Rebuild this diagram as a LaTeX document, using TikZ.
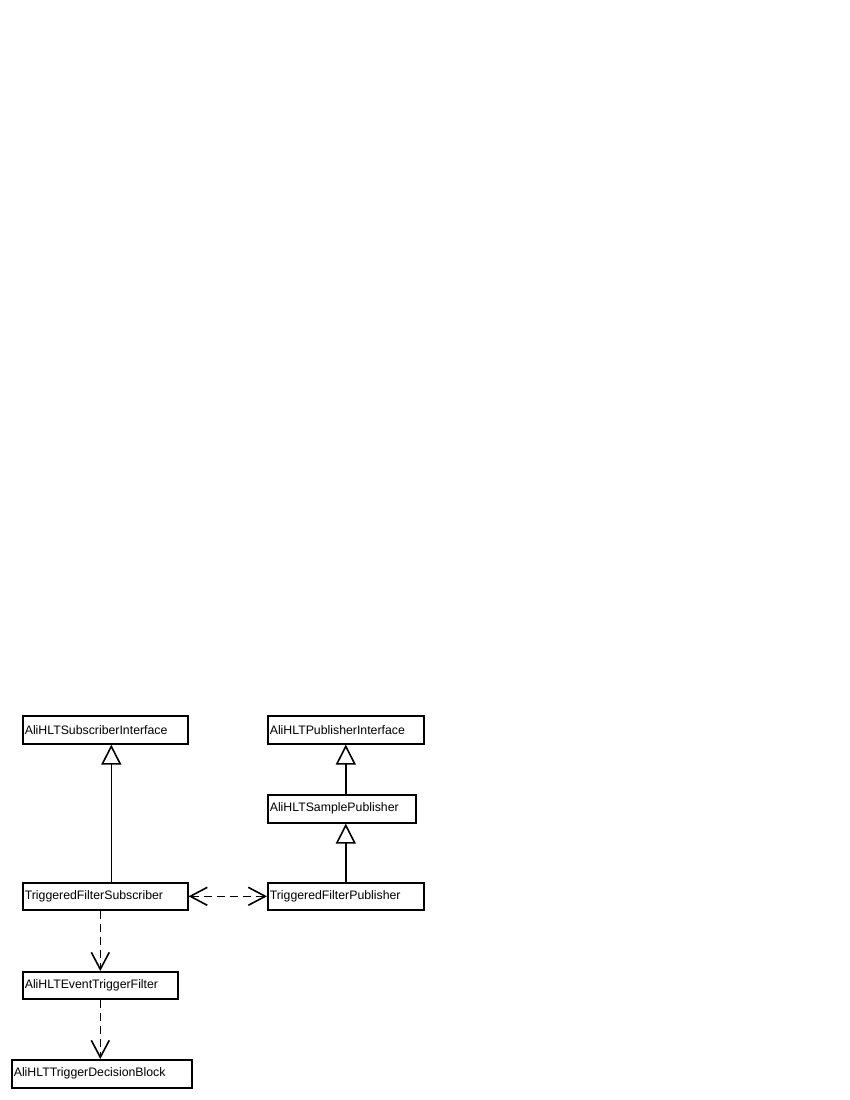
\documentclass[tikz,border=0pt]{standalone}
\usepackage{fontspec}
\setmainfont{Liberation Sans}
\usepackage{tikz}
\usetikzlibrary{arrows.meta}
\usetikzlibrary{positioning}

\begin{document}
\begin{tikzpicture}[
        x=1pt, y=-1pt,
        classbox/.style={draw, line width=1.6pt, anchor=north west, minimum height=28pt, inner sep=2pt,
            text width=#1-4pt, align=left, font=\fontsize{12.3}{14}\selectfont},
        inherit/.style={-{Triangle[open, length=20pt, width=20pt, fill=white]}, line width=1.6pt, black},
        depend/.style={-{Straight Barb[length=17pt, width=18pt]}, line width=1.6pt, dash pattern=on 8pt off 5pt, black},
    ]
    \useasboundingbox (0,0) rectangle (850,1100);
    \node[classbox=165pt] (subif) at (22,715) {AliHLTSubscriberInterface};
    \node[classbox=156pt] (pubif) at (267,715) {AliHLTPublisherInterface};
    \node[classbox=148pt] (sample) at (267,794) {AliHLTSamplePublisher};
    \node[classbox=165pt, minimum height=27pt] (tfsub) at (22,882) {TriggeredFilterSubscriber};
    \node[classbox=156pt, minimum height=27pt] (tfpub) at (267,882) {TriggeredFilterPublisher};
    \node[classbox=155pt, minimum height=27pt] (evt) at (22,971) {AliHLTEventTriggerFilter};
    \node[classbox=180pt] (dec) at (11,1059) {AliHLTTriggerDecisionBlock};
    \draw[inherit] ([xshift=6pt]tfsub.north) -- ([xshift=6pt]subif.south);
    \draw[inherit] (tfpub.north) -- (sample.south -| tfpub.north);
    \draw[inherit] (sample.north -| pubif.south) -- (pubif.south);
    \draw[depend, {Straight Barb[length=17pt, width=18pt]}-{Straight Barb[length=17pt, width=18pt]}] (tfsub.east) -- (tfpub.west);
    \draw[depend] (tfsub.south -| evt.north) -- (evt.north);
    \draw[depend] (evt.south) -- (dec.north -| evt.south);
\end{tikzpicture}
\end{document}
